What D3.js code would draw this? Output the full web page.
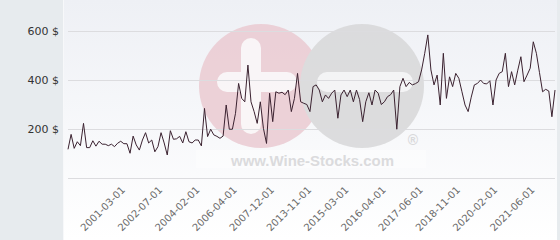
<!DOCTYPE html>
<html><head><meta charset="utf-8">
<script src="https://cdn.jsdelivr.net/npm/d3@7"></script>
<style>html,body{margin:0;padding:0;background:#e7ebee;}svg{display:block;}</style>
</head><body>
<svg id="c" width="560" height="240"></svg>
<script>
const prices = [117,178,121,148,132,223,124,124,152,130,150,138,138,132,138,128,142,150,140,140,
101,171,135,114,155,185,143,155,107,128,185,143,94,193,158,160,170,143,189,148,
143,155,155,131,284,169,199,176,170,162,171,298,199,199,264,386,325,311,461,311,
271,223,311,203,141,346,230,352,346,350,340,359,271,325,427,311,305,300,271,373,
380,359,311,339,325,346,359,244,339,359,332,359,311,359,320,230,311,348,298,359,
346,300,311,332,340,359,199,373,407,373,390,380,385,393,441,509,584,441,380,420,
298,509,325,413,373,427,407,352,298,271,330,380,386,400,386,384,397,298,400,427,
434,509,373,434,380,440,495,393,420,448,556,509,430,352,362,355,250,359];
const tickLabels = ["2001-03-01","2002-07-01","2004-02-01","2006-04-01","2007-12-01","2013-11-01",
"2015-03-01","2016-04-01","2017-06-01","2018-11-01","2020-02-01","2021-06-01"];
const tickIndex = [17,29,41,53,65,77,89,101,113,125,137,149];
const yTicks = [200,400,600];

const svg = d3.select("#c");
const defs = svg.append("defs");
const g = defs.append("linearGradient").attr("id","bg").attr("x1",0).attr("y1",0).attr("x2",0).attr("y2",1);
g.append("stop").attr("offset","0%").attr("stop-color","#eef0f5");
g.append("stop").attr("offset","100%").attr("stop-color","#ffffff");

svg.append("rect").attr("x",0).attr("y",0).attr("width",560).attr("height",240).attr("fill","#e7ebee");
svg.append("rect").attr("x",63).attr("y",0).attr("width",494).attr("height",240).attr("fill","url(#bg)");
svg.append("line").attr("x1",63.5).attr("x2",63.5).attr("y1",0).attr("y2",240).attr("stroke","#f7f8fa");

const x = d3.scalePoint().domain(d3.range(prices.length)).range([68,555]);
const y = d3.scaleLinear().domain([0,600]).range([178,31]);

// watermark
const wm = svg.append("g").attr("opacity",0.85);
wm.append("rect").attr("x",196).attr("y",150).attr("width",230).attr("height",18).attr("fill","#ffffff").attr("opacity",0.5);
wm.append("circle").attr("cx",261).attr("cy",86).attr("r",62).attr("fill","#ebcbd2");
wm.append("circle").attr("cx",362).attr("cy",86).attr("r",62).attr("fill","#d8d8d9");
wm.append("rect").attr("x",241).attr("y",38).attr("width",20).attr("height",96).attr("rx",10).attr("fill","#fbf6f7");
wm.append("rect").attr("x",217).attr("y",72).attr("width",80).attr("height",20).attr("rx",10).attr("fill","#fbf6f7");
wm.append("rect").attr("x",317).attr("y",72).attr("width",96).attr("height",20).attr("rx",10).attr("fill","#f4f4f5");
wm.append("text").attr("x",231).attr("y",166).attr("textLength",163).attr("lengthAdjust","spacingAndGlyphs")
  .attr("font-family","Liberation Sans, Arial, sans-serif").attr("font-weight","bold").attr("font-size",15)
  .attr("fill","#d6d6d8").text("www.Wine-Stocks.com");
wm.append("text").attr("x",413).attr("y",145).attr("text-anchor","middle")
  .attr("font-family","Liberation Sans, Arial, sans-serif").attr("font-weight","bold").attr("font-size",14)
  .attr("fill","#d4d4d6").text("®");

// grid
const grid = svg.append("g");
grid.selectAll("line").data([0].concat(yTicks)).join("line")
  .attr("x1",68).attr("x2",555).attr("y1",d=>Math.round(y(d))+0.5).attr("y2",d=>Math.round(y(d))+0.5)
  .attr("stroke","#dcdcdf").attr("stroke-width",1);

// y axis labels
const yAxis = d3.axisLeft(y).tickValues(yTicks).tickFormat(d=>d+" $").tickSize(0).tickPadding(0);
const ya = svg.append("g").attr("transform","translate(59,0)").call(yAxis);
ya.select(".domain").remove();
ya.selectAll("text").attr("font-family","DejaVu Sans, sans-serif").attr("font-size",11).attr("fill","#333");

// x axis labels
const xAxis = d3.axisBottom(x).tickValues(tickIndex).tickFormat((d,i)=>tickLabels[i]).tickSize(0);
const xa = svg.append("g").attr("transform","translate(0,185)").call(xAxis);
xa.select(".domain").remove();
xa.selectAll("text").attr("font-family","DejaVu Sans, sans-serif").attr("font-size",10).attr("fill","#6a6a6a")
  .attr("text-anchor","end").attr("dy","0.35em").attr("transform","translate(0,1) rotate(-45)");

// line
svg.append("path").datum(prices)
  .attr("d", d3.line().x((d,i)=>x(i)).y(d=>y(d)))
  .attr("fill","none").attr("stroke","#3b2230").attr("stroke-width",1).attr("stroke-linejoin","round");
</script>
</body></html>
